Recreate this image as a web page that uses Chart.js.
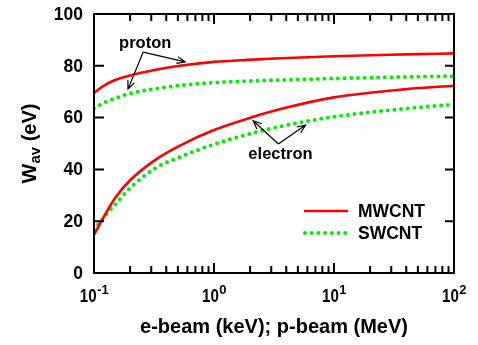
<!DOCTYPE html>
<html><head><meta charset="utf-8">
<script src="https://cdn.jsdelivr.net/npm/chart.js@4/dist/chart.umd.min.js"></script>
<style>html,body{margin:0;padding:0;background:#fff;} canvas{display:block;}</style>
</head><body>
<canvas id="c" width="478" height="345"></canvas>
<script>
// ---- data ----
const energies      = [0.1, 0.12, 0.15, 0.2, 0.32, 0.52, 1, 1.9, 3.6, 10, 40, 100];
const mwcntProton   = [69.5, 72.2, 74.5, 76.3, 78.4, 80.0, 81.5, 82.3, 82.9, 83.7, 84.4, 84.8];
const swcntProton   = [63.5, 65.6, 67.4, 69.3, 71.1, 72.4, 73.5, 74.1, 74.5, 75.1, 75.7, 76.0];
const mwcntElectron = [14.7, 21.5, 29.0, 35.8, 43.5, 49.2, 55.2, 59.6, 63.3, 67.8, 71.0, 72.3];
const swcntElectron = [16.6, 21.3, 26.5, 32.8, 40.3, 44.8, 49.7, 53.5, 56.6, 60.3, 63.5, 65.1];
const yTicks = [0, 20, 40, 60, 80, 100];
const xMajorTicks = [0.1, 1, 10, 100];
const xTickExp = ['-1', '0', '1', '2'];
const seriesNames = ['MWCNT', 'SWCNT'];
const xTitle = 'e-beam (keV); p-beam (MeV)';
// annotations in data space: [text, textX, textY, originX, originY, [[tipX,tipY],...]]
const annotations = [
  ['proton', 0.267, 88.8, 0.257, 85.3, [[0.575, 81.5], [0.192, 71.0]]],
  ['electron', 3.58, 45.9, 3.44, 49.8, [[2.12, 58.8], [5.79, 57.1]]]
];

const RED = '#ff0000', GREEN = '#00ee00';
const pts = arr => energies.map((e, i) => ({x: e, y: arr[i]}));
const solid = (label, arr) => ({label, data: pts(arr), borderColor: RED, borderWidth: 2.6,
  pointRadius: 0, cubicInterpolationMode: 'monotone', fill: false});
const dotted = (label, arr) => ({label, data: pts(arr), borderColor: GREEN, borderWidth: 4,
  borderDash: [0, 6.7], borderCapStyle: 'round', pointRadius: 0, cubicInterpolationMode: 'monotone', fill: false});

const FONT = '"Liberation Sans", Arial, sans-serif';

const decor = {
  id: 'decor',
  afterDatasetsDraw(chart) {
    const ctx = chart.ctx, a = chart.chartArea;
    const xs = chart.scales.x, ys = chart.scales.y;
    ctx.save();
    ctx.strokeStyle = '#000'; ctx.fillStyle = '#000';
    // frame
    ctx.lineWidth = 2;
    ctx.strokeRect(a.left, a.top, a.right - a.left, a.bottom - a.top);
    // y ticks (inward on both sides)
    ctx.font = 'bold 17.5px ' + FONT;
    ctx.textAlign = 'right'; ctx.textBaseline = 'middle';
    yTicks.forEach(v => {
      const p = ys.getPixelForValue(v);
      ctx.beginPath();
      ctx.moveTo(a.left, p); ctx.lineTo(a.left + 10, p);
      ctx.moveTo(a.right - 9, p); ctx.lineTo(a.right, p);
      ctx.stroke();
      ctx.fillText(String(v), a.left - 11, p + 1);
    });
    // x ticks (log)
    for (let d = 0; d < xMajorTicks.length; d++) {
      const base = xMajorTicks[d];
      const p = xs.getPixelForValue(base);
      ctx.beginPath();
      ctx.moveTo(p, a.bottom); ctx.lineTo(p, a.bottom - 10);
      ctx.moveTo(p, a.top); ctx.lineTo(p, a.top + 10);
      ctx.stroke();
      if (d < xMajorTicks.length - 1) {
        for (let m = 2; m <= 9; m++) {
          const q = xs.getPixelForValue(base * m);
          ctx.beginPath();
          ctx.moveTo(q, a.bottom); ctx.lineTo(q, a.bottom - 7);
          ctx.moveTo(q, a.top); ctx.lineTo(q, a.top + 7);
          ctx.stroke();
        }
      }
      // label 10^n (base slightly condensed)
      const cond = 0.84;
      ctx.textBaseline = 'alphabetic'; ctx.textAlign = 'left';
      ctx.font = 'bold 18px ' + FONT;
      const wBase = ctx.measureText('10').width * cond;
      ctx.font = 'bold 13px ' + FONT;
      const wExp = ctx.measureText(xTickExp[d]).width;
      const start = p - (wBase + wExp) / 2;
      ctx.save();
      ctx.translate(start, a.bottom + 29);
      ctx.scale(cond, 1);
      ctx.font = 'bold 18px ' + FONT;
      ctx.fillText('10', 0, 0);
      ctx.restore();
      ctx.font = 'bold 13px ' + FONT;
      ctx.fillText(xTickExp[d], start + wBase + 0.5, a.bottom + 21);
    }
    // x title
    ctx.font = 'bold 20px ' + FONT;
    ctx.textAlign = 'center'; ctx.textBaseline = 'alphabetic';
    ctx.fillText(xTitle, (a.left + a.right) / 2, a.bottom + 60);
    // y title (rotated) W_av (eV)
    ctx.save();
    ctx.translate(36, (a.top + a.bottom) / 2);
    ctx.rotate(-Math.PI / 2);
    ctx.font = 'bold 21px ' + FONT;
    const w1 = ctx.measureText('W').width;
    ctx.font = 'bold 15px ' + FONT;
    const w2 = ctx.measureText('av').width;
    ctx.font = 'bold 20px ' + FONT;
    const w3 = ctx.measureText(' (eV)').width;
    let sx = -(w1 + w2 + w3) / 2;
    ctx.textAlign = 'left';
    ctx.font = 'bold 21px ' + FONT; ctx.fillText('W', sx, 0); sx += w1;
    ctx.font = 'bold 15px ' + FONT; ctx.fillText('av', sx, 4); sx += w2;
    ctx.font = 'bold 20px ' + FONT; ctx.fillText(' (eV)', sx, 0);
    ctx.restore();
    // legend
    const lx0 = a.right - 150, lx1 = a.right - 106, ly = a.bottom - 62;
    ctx.font = 'bold 17.5px ' + FONT; ctx.textAlign = 'left'; ctx.textBaseline = 'middle';
    ctx.strokeStyle = RED; ctx.lineWidth = 2.6; ctx.setLineDash([]);
    ctx.beginPath(); ctx.moveTo(lx0, ly); ctx.lineTo(lx1, ly); ctx.stroke();
    ctx.fillStyle = '#000'; ctx.fillText(seriesNames[0], a.right - 96, ly + 1);
    ctx.strokeStyle = GREEN; ctx.lineWidth = 4; ctx.lineCap = 'round'; ctx.setLineDash([0, 6.7]);
    ctx.beginPath(); ctx.moveTo(lx0 + 1, ly + 22); ctx.lineTo(lx1, ly + 22); ctx.stroke();
    ctx.setLineDash([]); ctx.lineCap = 'butt';
    ctx.fillText(seriesNames[1], a.right - 96, ly + 23);
    // annotations
    ctx.strokeStyle = '#000'; ctx.fillStyle = '#000'; ctx.lineWidth = 1.2;
    annotations.forEach(([t, tx, ty, ox, oy, tips]) => {
      ctx.font = 'bold 16.5px ' + FONT; ctx.textAlign = 'center'; ctx.textBaseline = 'middle';
      ctx.fillText(t, xs.getPixelForValue(tx), ys.getPixelForValue(ty));
      const px = xs.getPixelForValue(ox), py = ys.getPixelForValue(oy);
      tips.forEach(([hx, hy]) => {
        const qx = xs.getPixelForValue(hx), qy = ys.getPixelForValue(hy);
        const ang = Math.atan2(qy - py, qx - px);
        ctx.beginPath(); ctx.moveTo(px, py); ctx.lineTo(qx, qy);
        const L = 9, s = 0.4;
        ctx.moveTo(qx - L * Math.cos(ang - s), qy - L * Math.sin(ang - s));
        ctx.lineTo(qx, qy);
        ctx.lineTo(qx - L * Math.cos(ang + s), qy - L * Math.sin(ang + s));
        ctx.stroke();
      });
    });
    ctx.restore();
  }
};

new Chart(document.getElementById('c'), {
  type: 'line',
  data: {
    datasets: [
      solid(seriesNames[0], mwcntProton),
      dotted(seriesNames[1], swcntProton),
      solid(seriesNames[0], mwcntElectron),
      dotted(seriesNames[1], swcntElectron)
    ]
  },
  options: {
    responsive: false, animation: false,
    layout: {padding: {left: 94, right: 24, top: 14, bottom: 72}},
    scales: {
      x: {type: 'logarithmic', min: 0.1, max: 100, display: false},
      y: {type: 'linear', min: 0, max: 100, display: false}
    },
    plugins: {legend: {display: false}, tooltip: {enabled: false}}
  },
  plugins: [decor]
});
</script>
</body></html>
